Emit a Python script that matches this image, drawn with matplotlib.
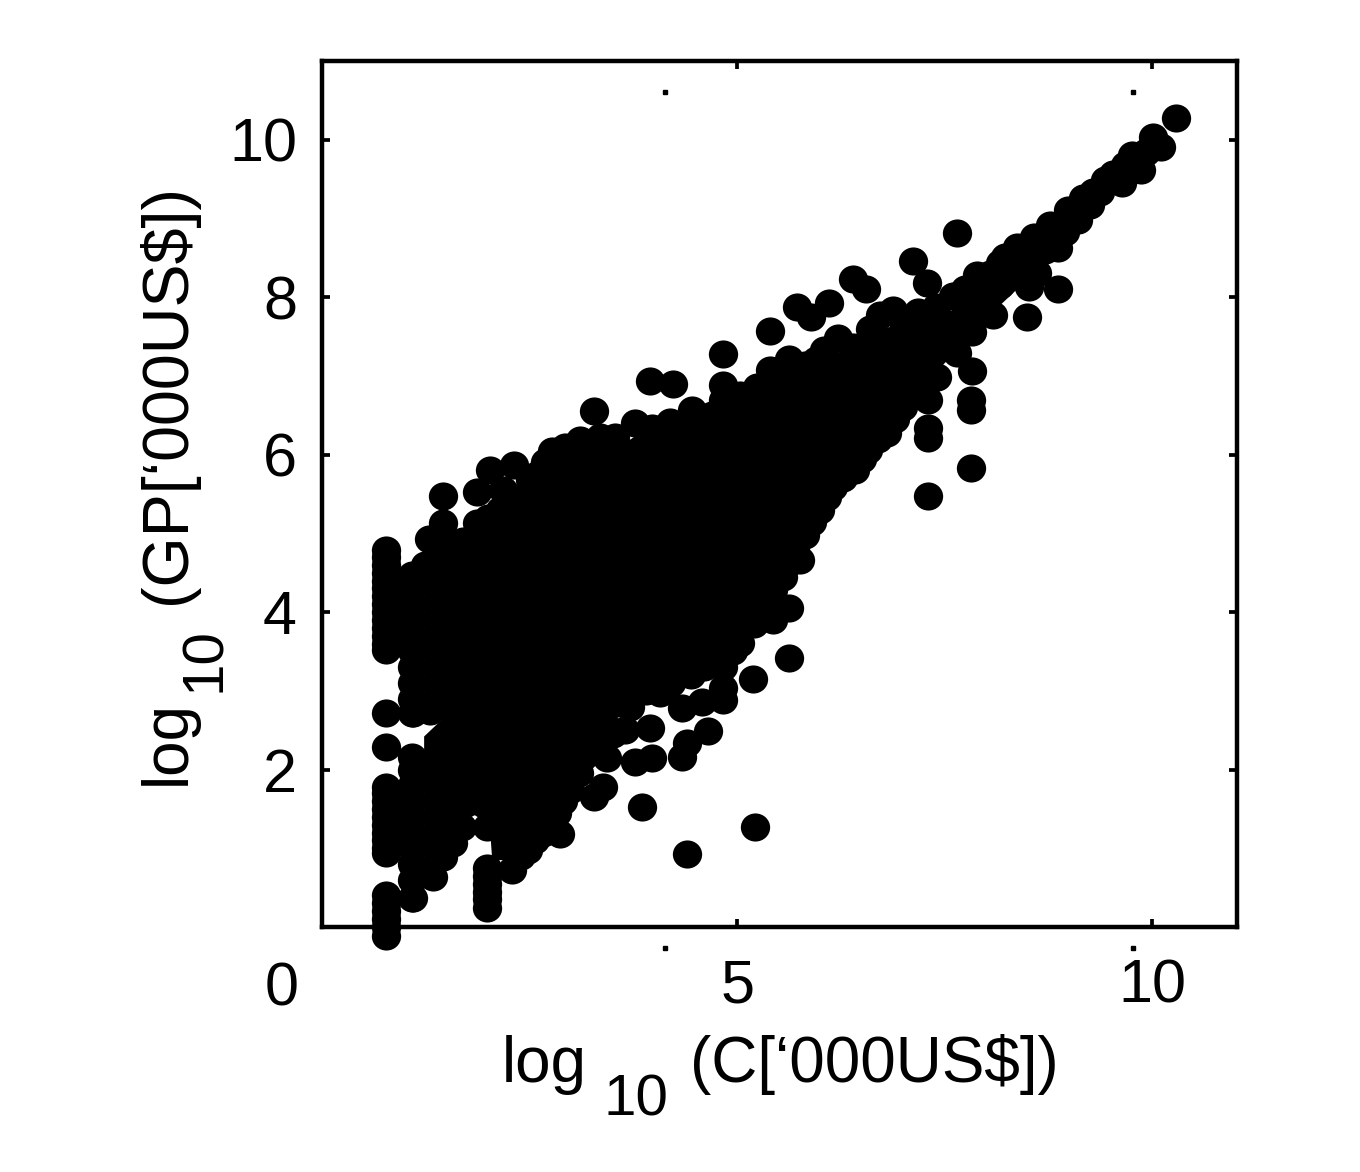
#!/usr/bin/env python3
import matplotlib

matplotlib.use("Agg")
import matplotlib.pyplot as plt
from matplotlib.path import Path
from matplotlib.transforms import Affine2D

plt.rcParams["font.family"] = ["Liberation Sans", "DejaVu Sans"]

W, H = 1360, 1172

# Firms stacked on the low end of the C axis
col1_y = [4.79, 4.7, 4.6, 4.5, 4.4, 4.3, 4.2, 4.1, 4.0, 3.9, 3.8, 3.7, 3.6, 3.52,
          2.72, 2.29, 1.78, 1.7, 1.6, 1.5, 1.4, 1.3, 1.2, 1.1, 1.0, 0.94,
          0.41, 0.3, 0.2, 0.1, 0.0, -0.11]
col1_x = [0.77] * len(col1_y)
col2_y = [4.47, 4.3, 4.1, 3.9, 3.7, 3.5, 3.3, 3.1, 2.9, 2.72, 2.16, 2.0, 1.8, 1.6,
          1.4, 1.2, 1.0, 0.8, 0.6, 0.37]
col2_x = [1.08] * len(col2_y)
col3_y = [0.75, 0.65, 0.55, 0.45, 0.35, 0.24]
col3_x = [1.99] * len(col3_y)

# Upper edge of the cloud
upper_x = [1.24, 1.46, 1.46, 1.29, 1.42, 1.60, 1.87, 1.87, 2.02, 2.31, 2.18,
           2.14, 2.51, 2.69, 2.77, 2.93, 3.11, 3.35, 3.53, 3.77, 3.98, 4.19, 4.46,
           4.61, 4.83, 5.04, 5.24, 5.40, 5.63, 5.82, 6.04, 6.22, 6.40, 6.72, 6.88,
           7.18, 7.39, 7.60, 7.89, 8.17, 1.55, 1.70, 2.00, 2.35, 2.60, 3.20, 3.45,
           4.35, 4.70, 4.95, 5.15, 5.50, 5.95, 6.55, 6.60, 7.00, 7.75, 8.05]
upper_y = [4.60, 5.48, 5.13, 4.93, 4.76, 4.85, 5.53, 5.13, 5.81, 5.87, 5.55,
           5.30, 5.68, 5.91, 6.04, 6.10, 6.19, 6.23, 6.23, 6.40, 6.34, 6.42, 6.57,
           6.44, 6.70, 6.76, 6.86, 7.08, 7.22, 7.14, 7.33, 7.48, 7.37, 7.78, 7.84,
           7.81, 7.87, 8.01, 8.28, 8.44, 4.70, 4.90, 5.20, 5.45, 5.75, 6.10, 6.10,
           6.35, 6.50, 6.60, 6.70, 6.95, 7.20, 7.40, 7.60, 7.70, 8.10, 8.30]

# The narrow tail towards the top right
tail_x = [10.29, 10.01, 10.10, 9.76, 9.64, 9.53, 9.28, 9.37, 9.16, 9.10, 8.98, 8.77,
          8.57, 8.37, 8.87, 8.61, 8.51, 8.23, 9.43, 9.67, 9.25, 8.95, 8.71, 8.41,
          8.17, 9.92, 9.86]
tail_y = [10.28, 10.03, 9.91, 9.81, 9.45, 9.56, 9.34, 9.33, 9.26, 8.98, 9.11, 8.92,
          8.77, 8.64, 8.62, 8.31, 8.13, 8.51, 9.49, 9.68, 9.17, 8.83, 8.60, 8.37,
          8.16, 9.85, 9.62]

# Points standing clear of the cloud
stray_x = [3.28, 3.95, 4.23, 4.83, 4.83, 5.40, 5.72, 5.89, 6.11, 6.40, 6.55, 7.12,
           7.29, 7.65, 8.49, 8.86, 7.83, 7.82, 7.82, 7.82, 7.30, 7.30, 7.30, 7.30]
stray_y = [6.56, 6.94, 6.90, 7.28, 6.89, 7.57, 7.88, 7.75, 7.93, 8.23, 8.11, 8.46,
           8.18, 8.82, 7.75, 8.11, 7.06, 6.70, 6.57, 5.83, 6.70, 6.34, 6.21, 5.48]

# Lower edge of the cloud
lower_x = [8.08, 7.83, 7.65, 7.41, 7.00, 6.81, 6.58, 6.42, 6.16, 6.08, 6.00,
           5.82, 5.76, 5.64, 5.43, 5.43, 5.63, 5.63, 5.19, 5.04, 4.83, 4.83, 4.83,
           4.58, 4.34, 4.07, 3.71, 3.39, 3.95, 3.65, 4.65, 4.40, 4.34, 3.98, 3.77,
           3.43, 3.39, 3.28, 3.86, 5.22, 4.40, 2.87, 3.27, 3.14, 2.99, 2.83, 2.66,
           2.48, 2.29, 1.99, 1.69, 1.58, 1.46, 1.34, 1.10, 7.20, 6.90, 6.70, 6.50,
           6.28, 5.90, 5.70, 5.55, 5.30, 5.20, 4.95, 4.60, 4.45, 4.20, 3.90, 3.55,
           3.50, 3.30, 3.10, 2.90, 2.75, 2.57, 2.40, 1.30, 1.10]
lower_y = [7.78, 7.56, 7.29, 6.99, 6.61, 6.28, 6.06, 5.81, 5.59, 5.46, 5.30,
           4.98, 4.66, 4.63, 4.28, 3.90, 4.05, 3.42, 3.15, 3.61, 3.30, 3.04, 2.88,
           2.86, 2.78, 2.97, 2.80, 2.63, 2.53, 2.50, 2.49, 2.34, 2.16, 2.15, 2.10,
           2.15, 1.78, 1.65, 1.52, 1.27, 0.93, 1.18, 2.41, 2.16, 1.74, 1.45, 1.19,
           0.98, 0.72, 1.27, 1.27, 1.07, 0.89, 0.64, 0.37, 6.85, 6.45, 6.20, 5.95,
           5.70, 5.15, 4.80, 4.45, 4.05, 3.85, 3.50, 3.30, 3.20, 3.10, 3.00, 2.85,
           2.45, 2.30, 1.95, 1.60, 1.30, 1.10, 0.90, 2.75, 2.72]

# Where the points overlap completely: outline of the solid mass
core_x = [1.23, 1.42, 1.78, 2.14, 2.51, 2.77, 3.13, 3.53, 3.78, 4.19, 4.46, 4.83,
          5.24, 5.40, 5.63, 6.04, 6.22, 6.40, 6.72, 7.18, 7.60, 7.89, 8.17, 8.57,
          8.77, 8.71, 8.49, 8.08, 7.83, 7.65, 7.39, 7.02, 6.81, 6.60, 6.42, 6.06,
          5.82, 5.64, 5.40, 5.04, 4.80, 4.31, 4.07, 3.71, 3.35, 3.11, 2.99, 2.83,
          2.69, 2.51, 2.27, 2.05, 2.02, 1.84, 1.66, 1.42, 1.23, 1.23, 1.45, 1.23]
core_y = [4.47, 4.73, 4.98, 5.36, 5.55, 5.91, 6.06, 6.06, 6.24, 6.25, 6.40, 6.54,
          6.70, 6.89, 7.05, 7.18, 7.31, 7.20, 7.61, 7.65, 7.84, 8.12, 8.28, 8.60,
          8.75, 8.48, 8.22, 7.81, 7.59, 7.33, 7.04, 6.66, 6.32, 6.09, 5.83, 5.51,
          5.07, 4.69, 4.18, 3.65, 3.42, 3.16, 3.04, 2.85, 2.68, 2.15, 1.83, 1.51,
          1.26, 1.07, 0.85, 0.85, 1.30, 1.42, 1.32, 0.95, 0.60, 2.42, 2.64, 2.60]

speck_x = [4.13, 9.77, 4.13, 9.77]
speck_y = [10.6, 10.6, -0.27, -0.27]

x_ticks = [5, 10]
y_ticks = [2, 4, 6, 8, 10]

fig = plt.figure(figsize=(W / 100, H / 100), dpi=100)
ax = fig.add_axes([322 / W, 1 - 927 / H, 915 / W, 866 / H])

# slightly wide dots, as in the original
dot = Path.unit_circle().transformed(Affine2D().scale(1.0, 0.96))

ax.fill(core_x, core_y, color="black", linewidth=0, zorder=3)
for xs, ys in [
    (col1_x, col1_y),
    (col2_x, col2_y),
    (col3_x, col3_y),
    (upper_x, upper_y),
    (tail_x, tail_y),
    (stray_x, stray_y),
    (lower_x, lower_y),
]:
    ax.scatter(xs, ys, s=445, marker=dot, color="black", linewidths=0,
               clip_on=False, zorder=4)
ax.plot(speck_x, speck_y, ls="none", marker="s", ms=2.4, color="black",
        clip_on=False, zorder=2)

ax.set_xlim(0, 11.02)
ax.set_ylim(0, 11.0)
ax.set_xticks(x_ticks)
ax.set_yticks(y_ticks)
ax.tick_params(direction="in", length=5.5, width=2.7, top=True, right=True,
               labelsize=44, colors="black")
ax.tick_params(axis="x", pad=23)
ax.tick_params(axis="y", pad=18)
for spine in ax.spines.values():
    spine.set_linewidth(3.2)


def put(px, py, text, size=46, **kw):
    fig.text(px / W, 1 - py / H, text, fontsize=size, va="baseline", **kw)


# the 0 sits off the axis corner, so it is placed by hand
put(282, 1005, "0", size=44, ha="center")
put(502, 1082, "log", ha="left")
put(603, 1116, "10", size=42, ha="left")
put(690, 1082, "(C[‘000US$])", ha="left")
put(185, 785, "log", ha="left", rotation=90, rotation_mode="anchor")
put(220, 692, "10", size=42, ha="left", rotation=90, rotation_mode="anchor")
put(185, 604, "(GP[‘000US$])", size=46.5, ha="left", rotation=90,
    rotation_mode="anchor")

fig.savefig("out.png", dpi=100)
